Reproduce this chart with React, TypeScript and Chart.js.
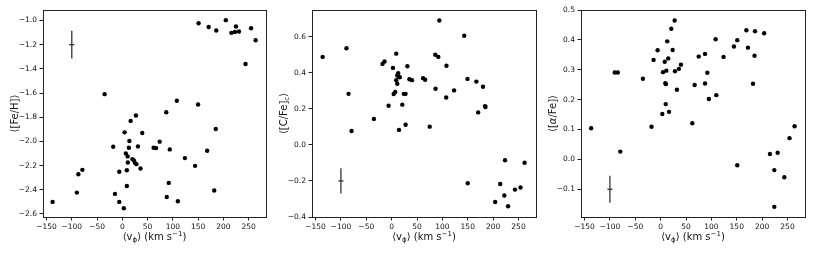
import React, { useEffect, useRef } from "react";
import { Chart, registerables } from "chart.js";

Chart.register(...registerables);

// ---------- data ----------
const xTicks = [-150, -100, -50, 0, 50, 100, 150, 200, 250];
const xMin = -157;
const xMax = 284.5;

// Panel 1: <[Fe/H]>
const feHX = [151, 171, 186, 205, 216, 225, 223, 231, 255, 264, 244, -35, 108, 150, 87, 27, 16.5, 185, 4.6, 39.5, 14, 74, -18, 13, 31, 62, 67, 94, 168, 7, 10.5, 20, 23, 25, 28, 11, 124, 144, 36, 9, -6, -79, -87, 92, 9, -90, -14.5, 182, 88, 110, -138, -6, 3];
const feHY = [-1.022, -1.053, -1.083, -0.997, -1.102, -1.05, -1.094, -1.091, -1.064, -1.163, -1.36, -1.609, -1.664, -1.695, -1.759, -1.786, -1.83, -1.897, -1.925, -1.93, -1.997, -2.002, -2.044, -2.052, -2.041, -2.052, -2.055, -2.066, -2.077, -2.099, -2.124, -2.146, -2.157, -2.177, -2.188, -2.174, -2.138, -2.202, -2.224, -2.238, -2.251, -2.235, -2.271, -2.343, -2.368, -2.423, -2.434, -2.406, -2.459, -2.495, -2.5, -2.5, -2.553];
const feHTicks = [-2.6, -2.4, -2.2, -2.0, -1.8, -1.6, -1.4, -1.2, -1.0];
const feHMin = -2.625;
const feHMax = -0.913;

// Panel 2: <[C/Fe]c>
const cFeX = [-136, -89, -85, -79, -35, -18, -14, -6, 2.6, 4, 7, 9, 9, 11, 11, 13, 14.5, 14.5, 16, 21, 24, 27.5, 27.5, 31, 35, 40, 62, 66, 75, 86, 86.5, 92, 94, 107.5, 108, 123, 143, 149.5, 150, 167, 170.5, 180, 184, 185, 204, 214, 222, 223.5, 229.5, 243, 254, 262];
const cFeY = [0.488, 0.536, 0.283, 0.077, 0.144, 0.449, 0.462, 0.217, 0.427, 0.282, 0.293, 0.506, 0.359, 0.339, 0.385, 0.398, 0.377, 0.083, 0.375, 0.223, 0.283, 0.283, 0.112, 0.436, 0.364, 0.359, 0.37, 0.361, 0.101, 0.5, 0.311, 0.488, 0.69, 0.263, 0.439, 0.302, 0.605, 0.366, -0.213, 0.351, 0.18, 0.322, 0.215, 0.21, -0.317, -0.217, -0.281, -0.085, -0.34, -0.248, -0.236, -0.099];
const cFeTicks = [-0.4, -0.2, 0.0, 0.2, 0.4, 0.6];
const cFeMin = -0.4;
const cFeMax = 0.748;

// Panel 3: <[alpha/Fe]>
const alphaX = [-137, -90.5, -84.5, -79.5, -35, -18, -14, -6, 3.3, 4.6, 8, 9.2, 10.5, 10, 11.2, 13, 15, 16.4, 21, 23.6, 27.6, 28.2, 32, 36, 40, 62.4, 67, 75, 87.4, 87.4, 92, 95, 108.4, 109.7, 124, 144.5, 151, 151, 169, 172, 182, 186, 185, 204, 215.4, 224, 224, 230.6, 243.7, 254, 264];
const alphaY = [0.104, 0.291, 0.291, 0.026, 0.27, 0.109, 0.333, 0.365, 0.152, 0.292, 0.327, 0.255, 0.252, 0.185, 0.297, 0.395, 0.338, 0.159, 0.437, 0.366, 0.465, 0.295, 0.233, 0.303, 0.317, 0.121, 0.249, 0.344, 0.254, 0.353, 0.29, 0.202, 0.402, 0.215, 0.343, 0.378, 0.399, -0.02, 0.432, 0.374, 0.253, 0.429, 0.347, 0.422, 0.018, -0.036, -0.159, 0.022, -0.06, 0.071, 0.111];
const alphaTicks = [-0.1, 0.0, 0.1, 0.2, 0.3, 0.4, 0.5];
const alphaMin = -0.193;
const alphaMax = 0.5;

// representative error bars
const errX = -100;
const errXErr = 5;
const errY = [-1.2, -0.2, -0.1];
const errYErr = [0.115, 0.07, 0.045];

// ---------- helpers ----------
type Seg = { t: string; sub?: boolean; sup?: boolean; italic?: boolean };

const FONT = '"DejaVu Sans", sans-serif';
const TEXT = "#111";

function drawRich(ctx: CanvasRenderingContext2D, segs: Seg[], x: number, y: number, size: number, rotate: boolean) {
  ctx.save();
  ctx.translate(x, y);
  if (rotate) ctx.rotate(-Math.PI / 2);
  const fontFor = (s: Seg) => `${s.italic ? "italic " : ""}${s.sub || s.sup ? size * 0.7 : size}px ${FONT}`;
  const widths = segs.map((s) => {
    ctx.font = fontFor(s);
    return ctx.measureText(s.t).width;
  });
  const total = widths.reduce((a, b) => a + b, 0);
  let cx = -total / 2;
  ctx.textBaseline = "middle";
  ctx.textAlign = "left";
  ctx.fillStyle = TEXT;
  segs.forEach((s, i) => {
    ctx.font = fontFor(s);
    const dy = s.sub ? size * 0.28 : s.sup ? -size * 0.33 : 0;
    ctx.fillText(s.t, cx, dy);
    cx += widths[i];
  });
  ctx.restore();
}

const framePlugin = {
  id: "frameTitles",
  afterDraw(chart: any, _args: any, opts: any) {
    const { ctx, chartArea } = chart;
    ctx.save();
    ctx.strokeStyle = "#222";
    ctx.lineWidth = 1;
    ctx.strokeRect(
      Math.round(chartArea.left) + 0.5,
      Math.round(chartArea.top) + 0.5,
      Math.round(chartArea.right - chartArea.left),
      Math.round(chartArea.bottom - chartArea.top)
    );
    ctx.restore();
    if (opts.xTitle) drawRich(ctx, opts.xTitle, (chartArea.left + chartArea.right) / 2, 237, 10, false);
    if (opts.yTitle) drawRich(ctx, opts.yTitle, chartArea.left - 28, (chartArea.top + chartArea.bottom) / 2, 10, true);
  },
};

const xTitle: Seg[] = [{ t: "⟨v" }, { t: "ϕ", sub: true }, { t: "⟩ (km s" }, { t: "−1", sup: true }, { t: ")" }];

const fmt = (v: number, d: number) => v.toFixed(d).replace("-", "−");

interface PanelProps {
  xs: number[];
  ys: number[];
  yTicks: number[];
  yMin: number;
  yMax: number;
  yDec: number;
  eY: number;
  eYErr: number;
  yTitle: Seg[];
  left: number;
  width: number;
  areaLeft: number;
  areaRight: number;
}

function Panel(p: PanelProps) {
  const ref = useRef<HTMLCanvasElement>(null);
  useEffect(() => {
    if (!ref.current) return;
    const pts = p.xs.map((x, i) => ({ x, y: p.ys[i] }));
    const chart = new Chart(ref.current, {
      type: "scatter",
      data: {
        datasets: [
          {
            data: pts,
            pointRadius: 2.2,
            pointBackgroundColor: "#000",
            pointBorderWidth: 0,
            showLine: false,
          },
          {
            data: [
              { x: errX, y: p.eY - p.eYErr },
              { x: errX, y: p.eY + p.eYErr },
            ],
            showLine: true,
            pointRadius: 0,
            borderColor: "#333",
            borderWidth: 1.3,
          },
          {
            data: [
              { x: errX - errXErr, y: p.eY },
              { x: errX + errXErr, y: p.eY },
            ],
            showLine: true,
            pointRadius: 0,
            borderColor: "#333",
            borderWidth: 1.3,
          },
        ],
      },
      options: {
        responsive: false,
        animation: false,
        layout: { padding: { top: 10, left: 0, bottom: 0, right: p.width - p.areaRight } },
        plugins: {
          legend: { display: false },
          tooltip: { enabled: false },
          frameTitles: { xTitle, yTitle: p.yTitle },
        } as any,
        scales: {
          x: {
            type: "linear",
            min: xMin,
            max: xMax,
            afterBuildTicks: (s: any) => {
              s.ticks = xTicks.map((v) => ({ value: v }));
            },
            afterFit: (s: any) => {
              s.height = 38;
            },
            grid: { display: true, drawOnChartArea: false, drawTicks: true, tickLength: 3.5, color: "#222", lineWidth: 1 },
            border: { display: false },
            ticks: {
              padding: 2.5,
              color: TEXT,
              font: { family: FONT, size: 7.5 },
              maxRotation: 0,
              autoSkip: false,
              callback: (v: any) => fmt(Number(v), 0),
            },
          },
          y: {
            type: "linear",
            min: p.yMin,
            max: p.yMax,
            afterBuildTicks: (s: any) => {
              s.ticks = p.yTicks.map((v) => ({ value: v }));
            },
            afterFit: (s: any) => {
              s.width = p.areaLeft;
            },
            grid: { display: true, drawOnChartArea: false, drawTicks: true, tickLength: 3.5, color: "#222", lineWidth: 1 },
            border: { display: false },
            ticks: {
              padding: 2.5,
              color: TEXT,
              font: { family: FONT, size: 7.5 },
              autoSkip: false,
              callback: (v: any) => fmt(Number(v), p.yDec),
            },
          },
        },
      },
      plugins: [framePlugin],
    });
    return () => chart.destroy();
  }, []);
  return (
    <canvas
      ref={ref}
      width={p.width}
      height={255}
      style={{ position: "absolute", left: p.left, top: 0, width: p.width, height: 255 }}
    />
  );
}

export default function App() {
  return (
    <div style={{ position: "fixed", left: 0, top: 0, width: 814, height: 255, background: "#fff" }}>
      <Panel
        xs={feHX}
        ys={feHY}
        yTicks={feHTicks}
        yMin={feHMin}
        yMax={feHMax}
        yDec={1}
        eY={errY[0]}
        eYErr={errYErr[0]}
        yTitle={[{ t: "⟨[Fe/H]⟩" }]}
        left={0}
        width={270}
        areaLeft={43}
        areaRight={267.3}
      />
      <Panel
        xs={cFeX}
        ys={cFeY}
        yTicks={cFeTicks}
        yMin={cFeMin}
        yMax={cFeMax}
        yDec={1}
        eY={errY[1]}
        eYErr={errYErr[1]}
        yTitle={[{ t: "⟨[C/Fe]" }, { t: "c", sub: true }, { t: "⟩" }]}
        left={270}
        width={270}
        areaLeft={42}
        areaRight={266.3}
      />
      <Panel
        xs={alphaX}
        ys={alphaY}
        yTicks={alphaTicks}
        yMin={alphaMin}
        yMax={alphaMax}
        yDec={1}
        eY={errY[2]}
        eYErr={errYErr[2]}
        yTitle={[{ t: "⟨[" }, { t: "α", italic: true }, { t: "/Fe]⟩" }]}
        left={540}
        width={274}
        areaLeft={41}
        areaRight={265}
      />
    </div>
  );
}
